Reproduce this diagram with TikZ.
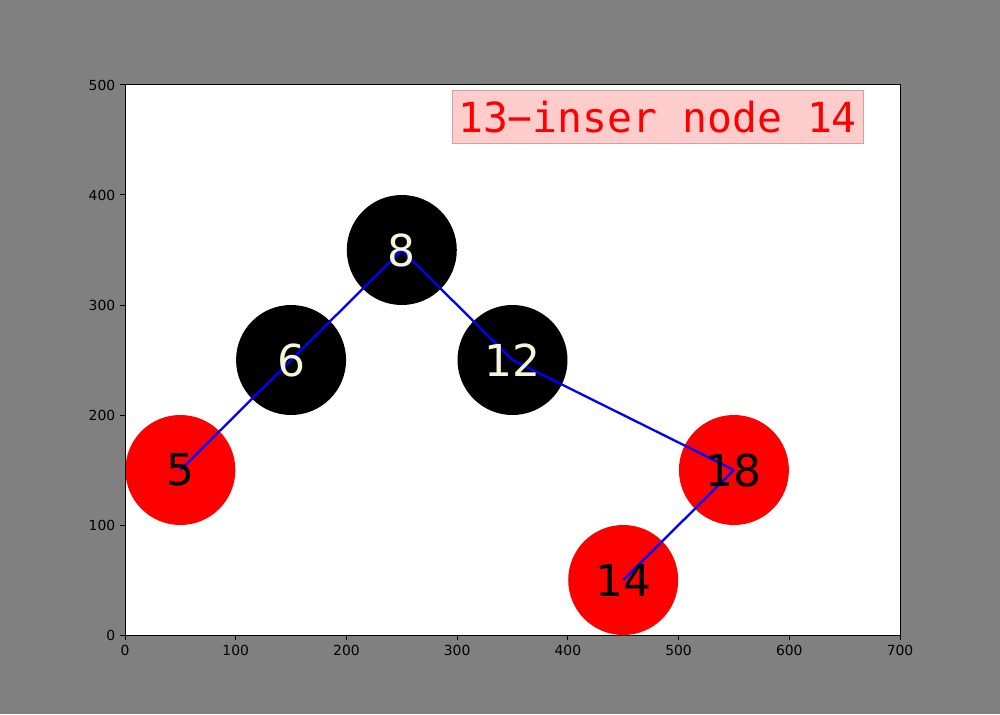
\documentclass[tikz,border=0pt]{standalone}
\usepackage{fontspec}
\setmainfont{DejaVu Sans}
\newfontfamily\monofont{DejaVu Sans Mono}
\definecolor{figgray}{HTML}{808080}
\definecolor{titlefill}{HTML}{FFCCCC}
\definecolor{titleedge}{HTML}{CCA3A3}
\definecolor{keylight}{HTML}{F5F5DC}
\usetikzlibrary{positioning}

\begin{document}
\begin{tikzpicture}[x=0.5pt, y=0.5pt,
  blacknode/.style={circle, fill=black, minimum size=55pt, inner sep=0pt},
  rednode/.style={circle, fill=red, minimum size=55pt, inner sep=0pt},
  keytext/.style={font=\fontsize{22}{26}\selectfont, inner sep=0pt},
  link/.style={blue, line width=1.15pt},
  ticklabel/.style={font=\fontsize{6.94}{8}\selectfont, inner sep=0pt}]
  \fill[figgray] (0,0) rectangle (1000,714);
  \useasboundingbox (0,0) rectangle (1000,714);
  \begin{scope}[shift={(125,79)}, x=0.55357pt, y=0.55pt]
    \fill[white] (0,0) rectangle (700,500);

    \node[blacknode] (n8)  at (250,350) {};
    \node[blacknode] (n6)  at (150,250) {};
    \node[blacknode] (n12) at (350,250) {};
    \node[rednode]   (n5)  at (50,150)  {};
    \node[rednode]   (n18) at (550,150) {};
    \node[rednode]   (n14) at (450,50)  {};

    \draw[link] (n8.center) -- (n6.center);
    \draw[link] (n6.center) -- (n5.center);
    \draw[link] (n8.center) -- (n12.center);
    \draw[link] (n12.center) -- (n18.center);
    \draw[link] (n18.center) -- (n14.center);

    \node[keytext, text=keylight] at (n8)  {8};
    \node[keytext, text=keylight] at (n6)  {6};
    \node[keytext, text=keylight] at (n12) {12};
    \node[keytext] at (n5)  {5};
    \node[keytext] at (n18) {18};
    \node[keytext] at (n14) {14};

    \node[draw=titleedge, fill=titlefill, line width=0.5pt, text=red,
      minimum width=205.5pt, minimum height=26.5pt, inner sep=0pt,
      font=\monofont\fontsize{20.7}{24}\selectfont] (title) at (481,470.5) {13−inser node 14};

    \draw[line width=0.5pt] (0,0) rectangle (700,500);
    \foreach \x in {0,100,...,700} {
      \draw[line width=0.5pt] (\x,0) -- ++(0,-2.43pt)
        node[ticklabel, anchor=north, yshift=-2.2pt] {\x};
    }
    \foreach \y in {0,100,...,500} {
      \draw[line width=0.5pt] (0,\y) -- ++(-2.43pt,0)
        node[ticklabel, anchor=east, xshift=-2.2pt] {\y};
    }
  \end{scope}
\end{tikzpicture}
\end{document}
